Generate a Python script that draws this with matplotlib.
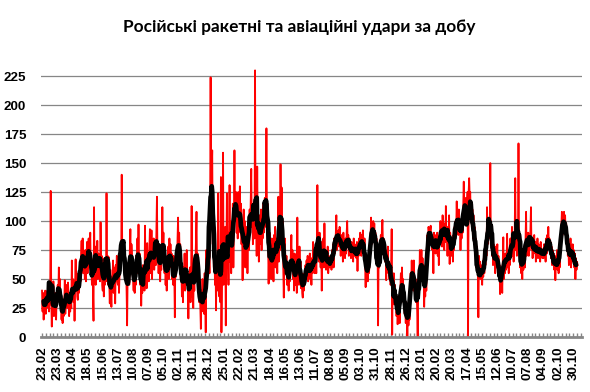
import numpy as np
import pandas as pd
import matplotlib
matplotlib.use("Agg")
import matplotlib.pyplot as plt
from matplotlib.ticker import MultipleLocator

# щоденна кількість ударів, з 23.02.2022
strikes_2022 = [
    40, 22, 38, 15, 33, 28, 40, 20, 35, 25, 40, 30, 45, 22, 38, 28, 126, 35, 9, 40, 25, 48, 18, 30, 22, 38, 15, 35,
    30, 45, 35, 60, 38, 50, 30, 28, 15, 25, 12, 30, 18, 26, 49, 20, 38, 30, 45, 25, 47, 35, 18, 30, 22, 35, 25, 66,
    35, 50, 30, 48, 14, 45, 67, 40, 55, 35, 32, 50, 38, 45, 60, 48, 70, 83, 60, 85, 55, 72, 62, 50, 75, 48, 65, 82,
    55, 70, 85, 60, 75, 90, 55, 68, 45, 60, 40, 14, 112, 50, 78, 45, 70, 55, 83, 50, 72, 58, 65, 48, 99, 60, 70, 45,
    40, 60, 35, 68, 45, 62, 48, 124, 55, 70, 45, 69, 50, 29, 58, 40, 26, 52, 45, 66, 38, 60, 48, 29, 62, 55, 70, 48,
    45, 60, 38, 55, 70, 68, 65, 140, 75, 80, 70, 78, 60, 75, 50, 62, 40, 10, 55, 48, 62, 45, 75, 93, 60, 80, 70, 55,
    50, 40, 62, 38, 55, 45, 70, 55, 85, 60, 97, 58, 72, 45, 60, 27, 50, 38, 62, 45, 55, 40, 96, 50, 65, 42, 81, 55,
    70, 48, 75, 93, 55, 68, 92, 50, 75, 60, 85, 58, 72, 80, 62, 90, 121, 70, 82, 55, 75, 62, 48, 70, 58, 80, 112, 75,
    90, 68, 55, 72, 45, 65, 40, 70, 55, 78, 50, 85, 65, 80, 60, 72, 50, 65, 45, 70, 55, 17, 68, 52, 75, 60, 85, 103,
    65, 90, 70, 80, 50, 62, 35, 55, 30, 60, 45, 72, 40, 65, 50, 75, 45, 55, 16, 48, 35, 60, 30, 50, 113, 35, 45, 25,
    55, 40, 70, 60, 85, 108, 55, 72, 40, 58, 30, 45, 25, 7, 40, 22, 50, 30, 42, 20, 55, 35, 4, 75, 45, 62, 70, 88,
    70, 55, 95, 224,
]
strikes_2023 = [
    100, 140, 161, 80, 110, 60, 95, 45, 70, 23, 60, 40, 75, 124, 50, 35, 65, 30, 138, 4, 55, 70, 159, 45,
    80, 55, 95, 10, 70, 124, 60, 90, 45, 85, 131, 65, 100, 55, 88, 70, 115, 60, 95, 161, 100, 120, 125, 90, 110, 85, 125, 95,
    105, 130, 90, 115, 80, 100, 49, 95, 110, 75, 100, 60, 85, 70, 95, 55, 88, 100, 75, 110, 90, 115, 145, 95, 105, 80, 110, 90,
    85, 230, 95, 110, 70, 147, 90, 100, 65, 105, 80, 95, 110, 75, 100, 85, 115, 90, 105, 120, 95, 110, 180, 100, 115, 85, 46, 75,
    90, 60, 80, 50, 85, 65, 75, 48, 88, 70, 95, 60, 85, 70, 55, 80, 121, 65, 95, 75, 149, 90, 129, 80, 100, 60, 34, 70,
    85, 65, 55, 70, 45, 60, 50, 40, 62, 48, 55, 70, 88, 58, 75, 50, 65, 40, 72, 55, 45, 60, 38, 103, 50, 65, 45, 78,
    55, 65, 42, 55, 38, 34, 50, 40, 55, 45, 62, 50, 66, 55, 70, 48, 65, 58, 72, 50, 62, 45, 68, 55, 82, 60, 70, 55,
    62, 75, 55, 80, 131, 70, 85, 65, 90, 75, 60, 82, 40, 70, 65, 85, 60, 98, 68, 75, 58, 72, 62, 78, 55, 70, 60, 68,
    62, 70, 58, 75, 65, 80, 60, 85, 72, 78, 90, 105, 75, 88, 80, 92, 78, 95, 85, 70, 88, 75, 82, 65, 90, 72, 80, 68,
    85, 72, 90, 100, 78, 88, 70, 85, 75, 80, 68, 82, 72, 78, 65, 85, 70, 80, 72, 75, 68, 82, 57, 78, 70, 85, 75, 90,
    82, 70, 88, 75, 92, 80, 72, 85, 65, 43, 70, 55, 62, 48, 68, 55, 60, 75, 85, 103, 80, 95, 88, 100, 85, 98, 80, 90,
    70, 85, 65, 78, 10, 72, 60, 80, 68, 88, 75, 92, 101, 78, 85, 70, 80, 65, 75, 49, 72, 60, 78, 55, 65, 50, 62, 45,
    55, 93, 2, 50, 35, 55, 28, 45, 30, 40, 18, 35, 11, 25, 15, 30, 12, 40, 55, 35, 60, 42, 50, 30, 38, 20, 30, 12,
    30, 18, 0, 25, 10,
]
strikes_2024 = [
    22, 15, 40, 55, 45, 66, 50, 62, 40, 66, 48, 35, 50, 30, 42, 25, 0, 40, 55, 45, 75, 50, 60,
    75, 55, 68, 50, 62, 26, 45, 35, 50, 40, 70, 88, 80, 95, 90, 85, 92, 96, 80, 88, 75, 85, 55, 90, 80, 88, 72, 85,
    78, 90, 70, 85, 62, 88, 80, 100, 85, 95, 78, 105, 88, 92, 75, 98, 82, 113, 85, 92, 70, 95, 85, 105, 63, 90, 78, 85,
    70, 82, 65, 88, 75, 95, 85, 100, 90, 117, 95, 105, 88, 110, 92, 100, 75, 95, 85, 103, 90, 110, 134, 100, 115, 105, 120, 110,
    105, 125, 0, 125, 137, 120, 125, 100, 115, 95, 110, 85, 105, 80, 95, 75, 85, 60, 78, 65, 55, 17, 70, 55, 65, 50, 62, 55,
    45, 60, 52, 68, 55, 75, 62, 85, 70, 112, 80, 95, 85, 100, 90, 150, 80, 93, 70, 88, 62, 80, 65, 75, 55, 78, 60, 72,
    80, 55, 70, 50, 62, 37, 55, 40, 60, 38, 65, 86, 50, 68, 55, 72, 58, 65, 89, 60, 70, 55, 75, 62, 85, 70, 80, 95,
    70, 88, 65, 80, 90, 137, 75, 85, 70, 85, 80, 167, 80, 70, 60, 75, 55, 68, 50, 72, 58, 65, 78, 60, 85, 108, 70, 88,
    75, 90, 70, 85, 78, 92, 112, 75, 85, 68, 80, 72, 88, 75, 82, 65, 78, 70, 85, 68, 80, 72, 78, 65, 82, 70, 76, 68,
    75, 68, 80, 70, 76, 65, 85, 72, 88, 78, 95, 80, 85, 72, 82, 68, 78, 62, 75, 65, 72, 58, 70, 49, 68, 62, 75, 58,
    70, 55, 72, 60, 78, 85, 95, 108, 88, 100, 92, 108, 95, 105, 90, 98, 80, 88, 70, 78, 62, 80, 65, 85, 60, 78, 68, 80,
    65, 75, 60, 72, 50, 68, 58, 65, 62,
]
tick_labels = ["23.02", "23.03", "20.04", "18.05", "15.06", "13.07", "10.08", "07.09", "05.10",
               "02.11", "30.11", "28.12", "25.01", "22.02", "21.03", "18.04", "16.05", "13.06",
               "11.07", "08.08", "05.09", "03.10", "31.10", "28.11", "26.12", "23.01", "20.02",
               "20.03", "17.04", "15.05", "12.06", "10.07", "07.08", "04.09", "02.10", "30.10"]
title = "Російські ракетні та авіаційні удари за добу"

daily = pd.Series(strikes_2022 + strikes_2023 + strikes_2024, dtype=float)
days = np.arange(len(daily))
avg7 = daily.rolling(7, center=True).mean()  # ковзне середнє за 7 днів

fig = plt.figure(figsize=(5.9, 3.92), dpi=100)
ax = fig.add_axes([0.0703, 0.1403, 0.916, 0.695])

ax.plot(days, daily, color="#ff0000", lw=1.3)
ax.plot(days, avg7, color="black", lw=3.4, solid_capstyle="round")

ax.set_xlim(-1, 996)
ax.set_ylim(0, 235)
ax.set_yticks(np.arange(0, 226, 25))
ax.grid(axis="y", color="#868686", lw=0.9)
ax.set_axisbelow(True)

ax.set_xticks(np.arange(len(tick_labels)) * 28)
ax.set_xticklabels(tick_labels, rotation=90)
ax.xaxis.set_minor_locator(MultipleLocator(7))

for s in ["top", "right", "left"]:
    ax.spines[s].set_visible(False)
ax.spines["bottom"].set_color("#868686")
ax.spines["bottom"].set_linewidth(2)

ax.tick_params(axis="x", which="both", direction="in", length=3, width=1, color="#868686", pad=7)
ax.tick_params(axis="y", length=0, pad=11)
for lab in ax.get_xticklabels() + ax.get_yticklabels():
    lab.set_fontweight("bold")
    lab.set_fontsize(9.6)
    lab.set_family("Liberation Sans")

fig.text(0.507, 0.931, title, ha="center", va="center", fontsize=12.4, fontweight="bold", family="Lato")

fig.savefig("out.png", dpi=100)
